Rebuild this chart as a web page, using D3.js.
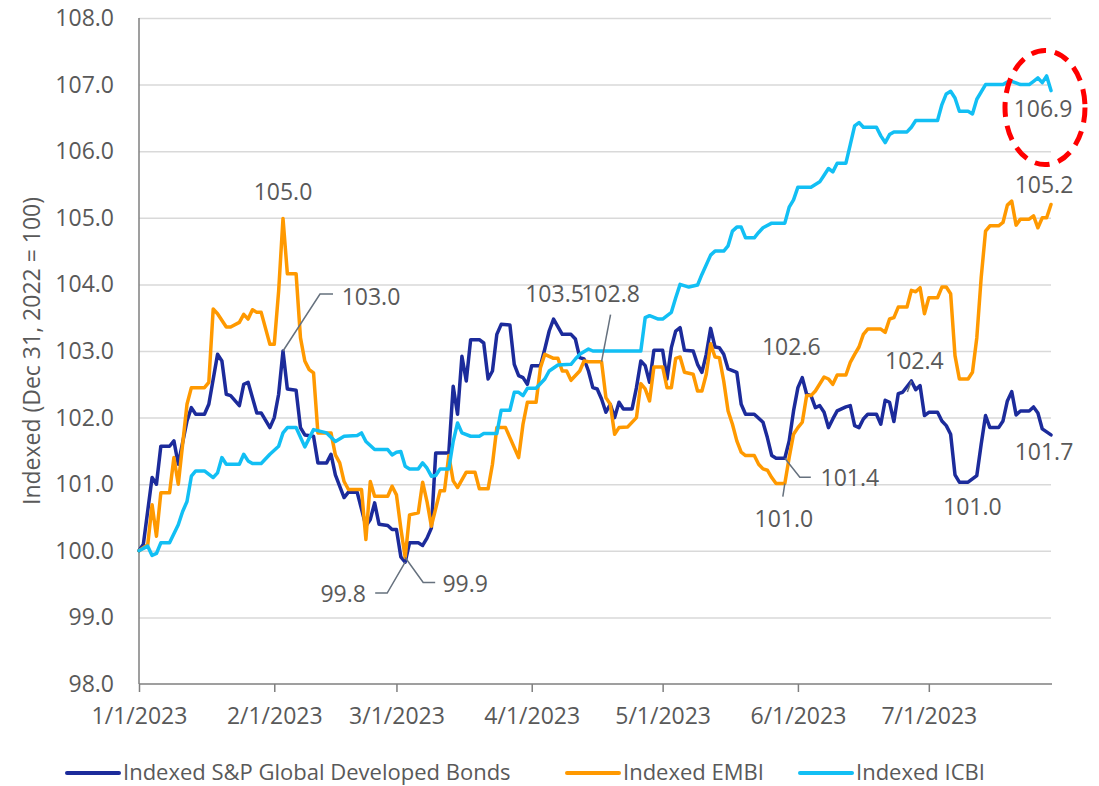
<!DOCTYPE html>
<html>
<head>
<meta charset="utf-8">
<title>Indexed bonds 2023</title>
<script src="https://cdn.jsdelivr.net/npm/d3@7"></script>
<style>
  body { margin: 0; background: #fff; }
  text { font-family: "Open Sans", sans-serif; fill: #595959; }
  .grid line { stroke: #d9d9d9; stroke-width: 1.5; }
  .series { fill: none; stroke-width: 3.5; stroke-linejoin: round; stroke-linecap: round; }
  .leader { fill: none; stroke: #66717e; stroke-width: 1.5; }
</style>
</head>
<body>
<svg id="chart" width="1099" height="786"></svg>
<script>
// series values, [month/day (2023), index level]
var spDev = [
  ["1/1",100.0],["1/2",100.1],["1/4",101.1],["1/5",101.0],["1/6",101.57],["1/8",101.57],["1/9",101.65],["1/10",101.3],
  ["1/12",101.95],["1/13",102.15],["1/14",102.05],["1/16",102.05],["1/17",102.2],["1/19",102.95],["1/20",102.85],["1/21",102.35],
  ["1/22",102.33],["1/24",102.18],["1/25",102.5],["1/26",102.53],["1/28",102.07],["1/29",102.07],["1/31",101.85],["2/1",102.0],
  ["2/2",102.35],["2/3",103.0],["2/4",102.43],["2/6",102.41],["2/7",101.85],["2/8",101.74],["2/10",101.72],["2/11",101.32],
  ["2/13",101.32],["2/14",101.45],["2/15",101.14],["2/17",100.8],["2/18",100.88],["2/20",100.88],["2/22",100.37],["2/23",100.47],
  ["2/24",100.72],["2/25",100.4],["2/27",100.38],["2/28",100.32],["3/1",100.32],["3/2",99.91],["3/3",99.83],["3/4",100.12],
  ["3/6",100.12],["3/7",100.08],["3/8",100.19],["3/9",100.34],["3/10",101.47],["3/13",101.47],["3/14",102.47],["3/15",102.05],
  ["3/16",102.92],["3/17",102.55],["3/18",103.17],["3/20",103.17],["3/21",103.12],["3/22",102.58],["3/23",102.7],["3/24",103.25],
  ["3/25",103.4],["3/27",103.39],["3/28",102.8],["3/29",102.63],["3/30",102.6],["3/31",102.5],["4/1",102.78],["4/3",102.78],
  ["4/4",103.03],["4/5",103.3],["4/6",103.48],["4/8",103.25],["4/10",103.25],["4/11",103.18],["4/12",102.9],["4/13",102.88],
  ["4/14",102.7],["4/15",102.45],["4/16",102.43],["4/17",102.28],["4/18",102.08],["4/19",102.2],["4/20",102.0],["4/21",102.23],
  ["4/22",102.13],["4/24",102.13],["4/25",102.45],["4/26",102.85],["4/27",102.78],["4/28",102.53],["4/29",103.01],["5/1",103.01],
  ["5/2",102.58],["5/3",103.05],["5/4",103.3],["5/5",103.35],["5/6",103.01],["5/8",103.0],["5/9",102.8],["5/10",102.68],
  ["5/11",102.95],["5/12",103.34],["5/13",103.06],["5/14",103.05],["5/15",102.95],["5/16",102.73],["5/18",102.68],["5/19",102.2],
  ["5/20",102.05],["5/22",102.05],["5/24",101.93],["5/25",101.7],["5/26",101.43],["5/27",101.39],["5/29",101.39],["5/30",101.65],
  ["5/31",102.1],["6/1",102.45],["6/2",102.6],["6/3",102.35],["6/4",102.33],["6/5",102.15],["6/6",102.18],["6/7",102.08],
  ["6/8",101.85],["6/9",101.98],["6/10",102.1],["6/12",102.16],["6/13",102.18],["6/14",101.88],["6/15",101.85],["6/16",101.98],
  ["6/17",102.05],["6/19",102.05],["6/20",101.9],["6/21",102.26],["6/22",102.23],["6/23",101.94],["6/24",102.36],["6/25",102.38],
  ["6/27",102.55],["6/28",102.42],["6/29",102.48],["6/30",102.03],["7/1",102.08],["7/3",102.08],["7/4",101.95],["7/5",101.88],
  ["7/6",101.75],["7/7",101.14],["7/8",101.03],["7/10",101.03],["7/11",101.08],["7/12",101.13],["7/13",101.6],["7/14",102.03],
  ["7/15",101.85],["7/17",101.85],["7/18",101.95],["7/19",102.25],["7/20",102.39],["7/21",102.04],["7/22",102.1],["7/24",102.1],
  ["7/25",102.16],["7/26",102.07],["7/27",101.83],["7/29",101.74]
];

var embi = [
  ["1/1",100.0],["1/3",100.09],["1/4",100.69],["1/5",100.22],["1/6",100.87],["1/8",100.87],["1/9",101.4],["1/10",101.0],
  ["1/11",101.6],["1/12",102.2],["1/13",102.45],["1/16",102.45],["1/17",102.53],["1/18",103.63],["1/19",103.56],["1/21",103.36],
  ["1/22",103.36],["1/24",103.43],["1/25",103.55],["1/26",103.48],["1/27",103.62],["1/28",103.58],["1/29",103.58],["1/31",103.1],
  ["2/1",103.1],["2/2",103.9],["2/3",104.99],["2/4",104.16],["2/6",104.16],["2/7",103.2],["2/8",102.85],["2/9",102.72],
  ["2/10",102.67],["2/11",101.77],["2/14",101.77],["2/15",101.44],["2/16",101.32],["2/17",101.04],["2/18",100.92],["2/21",100.92],
  ["2/22",100.17],["2/23",101.04],["2/24",100.82],["2/27",100.82],["2/28",100.97],["3/1",100.84],["3/2",100.34],["3/3",99.9],
  ["3/4",100.54],["3/6",100.57],["3/7",101.03],["3/8",100.74],["3/9",100.37],["3/11",100.9],["3/12",100.9],["3/13",101.43],
  ["3/14",101.05],["3/15",100.95],["3/17",101.18],["3/19",101.18],["3/20",100.93],["3/22",100.93],["3/23",101.3],["3/24",101.85],
  ["3/26",101.85],["3/27",101.7],["3/29",101.4],["3/30",101.9],["3/31",102.23],["4/2",102.23],["4/3",102.75],["4/4",102.95],
  ["4/6",102.89],["4/7",102.89],["4/8",102.7],["4/9",102.7],["4/10",102.56],["4/12",102.7],["4/13",102.85],["4/14",102.84],
  ["4/17",102.84],["4/18",102.3],["4/19",102.2],["4/20",101.75],["4/21",101.85],["4/23",101.86],["4/25",102.0],["4/26",102.51],
  ["4/27",102.43],["4/28",102.25],["4/29",102.76],["5/1",102.76],["5/2",102.45],["5/3",102.45],["5/4",102.89],["5/5",102.91],
  ["5/6",102.68],["5/8",102.65],["5/9",102.4],["5/10",102.4],["5/11",102.65],["5/12",103.11],["5/13",102.91],["5/14",102.9],
  ["5/15",102.55],["5/16",102.1],["5/17",101.9],["5/18",101.65],["5/19",101.48],["5/20",101.43],["5/22",101.43],["5/23",101.3],
  ["5/24",101.23],["5/25",101.21],["5/26",101.1],["5/27",101.01],["5/29",101.01],["5/30",101.4],["5/31",101.75],["6/1",101.85],
  ["6/2",101.93],["6/3",102.33],["6/4",102.33],["6/5",102.4],["6/7",102.61],["6/8",102.58],["6/9",102.5],["6/10",102.64],
  ["6/12",102.64],["6/13",102.83],["6/14",102.95],["6/15",103.06],["6/16",103.25],["6/17",103.33],["6/20",103.33],["6/21",103.28],
  ["6/22",103.48],["6/23",103.5],["6/24",103.66],["6/26",103.66],["6/27",103.91],["6/28",103.89],["6/29",103.95],["6/30",103.56],
  ["7/1",103.8],["7/3",103.8],["7/4",103.96],["7/5",103.96],["7/6",103.86],["7/7",102.93],["7/8",102.58],["7/10",102.58],
  ["7/11",102.68],["7/12",103.2],["7/13",104.1],["7/14",104.8],["7/15",104.88],["7/17",104.88],["7/18",104.93],["7/19",105.19],
  ["7/20",105.25],["7/21",104.89],["7/22",104.98],["7/24",104.98],["7/25",105.03],["7/26",104.85],["7/27",105.0],["7/28",105.0],
  ["7/29",105.2]
];

var icbi = [
  ["1/1",100.0],["1/3",100.07],["1/4",99.93],["1/5",99.96],["1/6",100.12],["1/8",100.12],["1/10",100.39],["1/11",100.59],
  ["1/12",100.74],["1/13",101.12],["1/14",101.2],["1/16",101.2],["1/18",101.1],["1/19",101.17],["1/20",101.4],["1/21",101.3],
  ["1/24",101.3],["1/25",101.45],["1/26",101.35],["1/27",101.31],["1/29",101.31],["1/31",101.45],["2/2",101.57],["2/3",101.77],
  ["2/4",101.85],["2/6",101.85],["2/8",101.56],["2/10",101.82],["2/13",101.77],["2/15",101.64],["2/17",101.72],["2/20",101.73],
  ["2/21",101.77],["2/22",101.64],["2/24",101.52],["2/27",101.52],["2/28",101.44],["3/1",101.48],["3/2",101.49],["3/3",101.27],
  ["3/4",101.23],["3/6",101.23],["3/7",101.32],["3/8",101.24],["3/9",101.12],["3/10",101.13],["3/11",101.23],["3/13",101.23],
  ["3/14",101.64],["3/15",101.92],["3/16",101.77],["3/18",101.72],["3/20",101.72],["3/21",101.76],["3/24",101.76],["3/25",102.11],
  ["3/27",102.11],["3/28",102.38],["3/29",102.38],["3/30",102.33],["3/31",102.44],["4/2",102.44],["4/4",102.58],["4/5",102.7],
  ["4/7",102.79],["4/10",102.8],["4/11",102.88],["4/12",102.95],["4/14",103.03],["4/15",103.0],["4/26",103.0],["4/27",103.5],
  ["4/28",103.53],["4/30",103.48],["5/1",103.48],["5/3",103.58],["5/4",103.8],["5/5",104.0],["5/7",103.96],["5/9",103.99],
  ["5/10",104.15],["5/12",104.44],["5/13",104.5],["5/15",104.5],["5/16",104.58],["5/17",104.8],["5/18",104.86],["5/19",104.86],
  ["5/20",104.7],["5/22",104.7],["5/23",104.78],["5/24",104.85],["5/26",104.92],["5/29",104.92],["5/30",105.16],["5/31",105.27],
  ["6/1",105.46],["6/4",105.46],["6/6",105.54],["6/7",105.64],["6/8",105.74],["6/9",105.69],["6/10",105.82],["6/12",105.82],
  ["6/13",106.1],["6/14",106.38],["6/15",106.43],["6/16",106.36],["6/19",106.36],["6/20",106.23],["6/21",106.13],["6/22",106.25],
  ["6/23",106.29],["6/26",106.29],["6/27",106.36],["6/28",106.46],["7/3",106.46],["7/4",106.7],["7/5",106.86],["7/6",106.9],
  ["7/7",106.8],["7/8",106.6],["7/10",106.6],["7/11",106.56],["7/12",106.78],["7/14",107.0],["7/18",107.0],["7/19",107.04],
  ["7/20",107.05],["7/22",107.0],["7/24",107.0],["7/25",107.05],["7/26",107.1],["7/27",107.03],["7/28",107.13],["7/29",106.91]
];

var seriesNames = ["Indexed S&P Global Developed Bonds", "Indexed EMBI", "Indexed ICBI"];
var seriesColors = ["#1c2b9b", "#ff9900", "#12bff4"];
var xTicks = ["1/1", "2/1", "3/1", "4/1", "5/1", "6/1", "7/1"];
var yTicks = [98, 99, 100, 101, 102, 103, 104, 105, 106, 107, 108];
var yTitle = "Indexed (Dec 31, 2022 = 100)";

// callouts: which series / date, the text, and label offset from the point
var callouts = [
  {s: 1, date: "2/3", text: "105.0", dx: 0, dy: -18},
  {s: 0, date: "2/3", text: "103.0", dx: 88, dy: -46, leader: [[37, -57], [50, -57]]},
  {s: 0, date: "3/3", text: "99.8", dx: -62, dy: 40, leader: [[-18, 31], [-30, 31]]},
  {s: 1, date: "3/3", text: "99.9", dx: 60, dy: 35, leader: [[18, 25], [30, 25]]},
  {s: 0, date: "4/6", text: "103.5", dx: 1, dy: -17},
  {s: 1, date: "4/17", text: "102.8", dx: 9, dy: -60, leader: [[9, -47]]},
  {s: 0, date: "6/2", text: "102.6", dx: -11, dy: -23},
  {s: 0, date: "5/29", text: "101.4", dx: 65, dy: 28, leader: [[15, 19], [26, 19]]},
  {s: 1, date: "5/29", text: "101.0", dx: -1, dy: 43, leader: [[-2, 13]]},
  {s: 0, date: "6/27", text: "102.4", dx: 3, dy: -12, leader: [[-4, 11]]},
  {s: 0, date: "7/8", text: "101.0", dx: 13, dy: 33},
  {s: 1, date: "7/29", text: "105.2", dx: -7, dy: -11},
  {s: 2, date: "7/29", text: "106.9", dx: -8, dy: 26},
  {s: 0, date: "7/29", text: "101.7", dx: -7, dy: 25}
];

(function() {
  var parseDate = function(md) { return d3.timeParse("%m/%d/%Y")(md + "/2023"); };
  var allSeries = [spDev, embi, icbi].map(function(arr) {
    return arr.map(function(d) { return {date: parseDate(d[0]), key: d[0], value: d[1]}; });
  });

  var svg = d3.select("#chart");
  var plotLeft = 139, plotRight = 1051, plotTop = 18, plotBottom = 684;

  var x = d3.scaleTime().domain([parseDate("1/1"), parseDate("7/29")]).range([plotLeft, plotRight]);
  var y = d3.scaleLinear().domain([98, 108]).range([plotBottom, plotTop]);

  // gridlines
  svg.append("g")
    .attr("class", "grid")
    .attr("transform", "translate(" + plotLeft + ",0)")
    .call(d3.axisLeft(y).tickValues(yTicks.slice(1)).tickSize(-(plotRight - plotLeft)).tickFormat(""))
    .call(function(g) { g.select(".domain").remove(); });

  // y labels
  svg.append("g").selectAll("text")
    .data(yTicks).enter().append("text")
    .attr("x", 114)
    .attr("y", function(d) { return y(d) + 8; })
    .attr("text-anchor", "end")
    .style("font-size", "23px")
    .text(function(d) { return d3.format(".1f")(d); });

  // axis lines
  svg.append("line").attr("x1", plotLeft).attr("x2", plotLeft).attr("y1", plotTop).attr("y2", plotBottom)
    .attr("stroke", "#7f7f7f").attr("stroke-width", 1.5);

  var xAxis = svg.append("g")
    .attr("transform", "translate(0," + plotBottom + ")")
    .call(d3.axisBottom(x).tickValues(xTicks.map(parseDate)).tickSize(8).tickFormat(d3.timeFormat("%-m/%-d/%Y")));
  xAxis.select(".domain").attr("stroke", "#7f7f7f").attr("stroke-width", 1.5)
    .attr("d", "M" + plotLeft + ",0H" + (plotRight + 1));
  xAxis.selectAll(".tick line").attr("stroke", "#7f7f7f").attr("stroke-width", 1.5);
  xAxis.selectAll(".tick text").attr("y", 40).attr("dy", 0)
    .style("font-size", "23px").style("font-family", "'Open Sans', sans-serif").attr("fill", "#595959");

  // y title
  svg.append("text")
    .attr("transform", "translate(40," + ((plotTop + plotBottom) / 2) + ") rotate(-90)")
    .attr("text-anchor", "middle")
    .style("font-size", "23px")
    .text(yTitle);

  // lines
  var line = d3.line()
    .x(function(d) { return x(d.date); })
    .y(function(d) { return y(d.value); });

  allSeries.forEach(function(data, i) {
    svg.append("path")
      .datum(data)
      .attr("class", "series")
      .attr("stroke", seriesColors[i])
      .attr("d", line);
  });

  // callouts
  callouts.forEach(function(c) {
    var pt = allSeries[c.s].find(function(d) { return d.key === c.date; });
    var px = x(pt.date), py = y(pt.value);
    if (c.leader) {
      var pts = [[px, py]].concat(c.leader.map(function(o) { return [px + o[0], py + o[1]]; }));
      svg.append("path").attr("class", "leader").attr("d", d3.line()(pts));
    }
    svg.append("text")
      .attr("x", px + c.dx)
      .attr("y", py + c.dy)
      .attr("text-anchor", "middle")
      .style("font-size", "23px")
      .text(c.text);
  });

  // red dashed highlight around the ICBI end value
  var lastIcbi = allSeries[2][allSeries[2].length - 1];
  svg.append("ellipse")
    .attr("cx", x(lastIcbi.date) - 6)
    .attr("cy", y(lastIcbi.value) + 17)
    .attr("rx", 40).attr("ry", 57)
    .attr("fill", "none")
    .attr("stroke", "#ff0000")
    .attr("stroke-width", 5)
    .attr("stroke-dasharray", "15 9");

  // legend
  var legendX = [67, 567, 800];
  var legend = svg.append("g");
  seriesNames.forEach(function(name, i) {
    legend.append("line")
      .attr("x1", legendX[i]).attr("x2", legendX[i] + 52)
      .attr("y1", 773).attr("y2", 773)
      .attr("stroke", seriesColors[i]).attr("stroke-width", 4).attr("stroke-linecap", "round");
    legend.append("text")
      .attr("x", legendX[i] + 56).attr("y", 780)
      .style("font-size", "22px")
      .text(name);
  });
})();
</script>
</body>
</html>
